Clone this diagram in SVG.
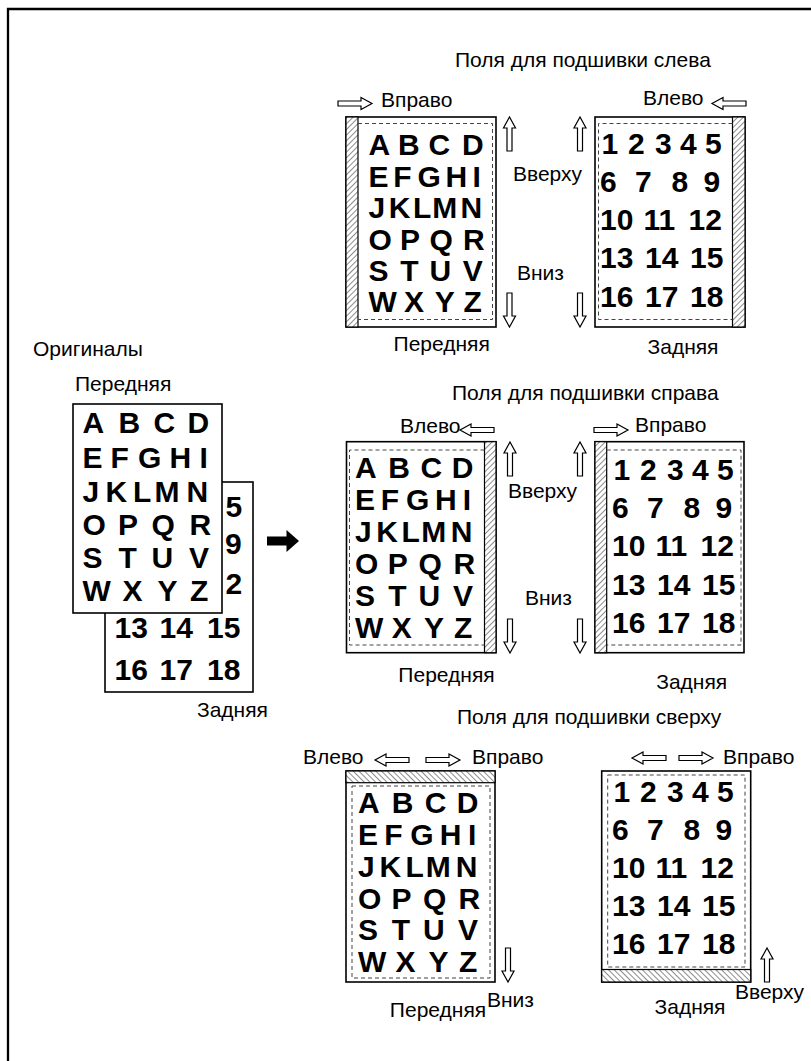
<svg xmlns="http://www.w3.org/2000/svg" xmlns:xlink="http://www.w3.org/1999/xlink" width="811" height="1061" viewBox="0 0 811 1061">
<style>
.page{fill:#fff;stroke:#000;stroke-width:1.6}
.strip{stroke:#000;stroke-width:1.2}
.dash{fill:none;stroke:#444;stroke-width:1;stroke-dasharray:4 3}
.big{font-family:"Liberation Sans",Arial,sans-serif;font-weight:bold;font-size:30px;fill:#000}
.lbl{font-family:"Liberation Sans",Arial,sans-serif;font-size:21px;fill:#000}
.mid{text-anchor:middle}
</style>
<defs>
<pattern id="hatchV" width="4" height="4" patternUnits="userSpaceOnUse" patternTransform="rotate(45)">
<rect width="4" height="4" fill="#fff"/>
<line x1="0" y1="0" x2="0" y2="4" stroke="#000" stroke-width="0.9"/>
</pattern>
<pattern id="hatchH" width="4" height="4" patternUnits="userSpaceOnUse" patternTransform="rotate(-45)">
<rect width="4" height="4" fill="#fff"/>
<line x1="0" y1="0" x2="0" y2="4" stroke="#000" stroke-width="0.9"/>
</pattern>
<path id="ha" d="M-34,-2.5 H-11 V-6 L0,0 L-11,6 V2.5 H-34 Z" fill="#fff" stroke="#000" stroke-width="1.2"/>
</defs>

<rect width="811" height="1061" fill="#fff"/>
<path d="M8,1061 V9 H811" fill="none" stroke="#000" stroke-width="2.3"/>

<g id="title-left" class="lbl"><text x="455" y="67">Поля для подшивки слева</text></g>
<g id="title-right" class="lbl"><text x="452" y="400">Поля для подшивки справа</text></g>
<g id="title-top" class="lbl"><text x="457" y="724">Поля для подшивки сверху</text></g>

<!-- Originals -->
<g id="originals">
<text class="lbl" x="33" y="356">Оригиналы</text>
<text class="lbl" x="75" y="391">Передняя</text>
<text class="lbl" x="197" y="717">Задняя</text>
<g id="orig-back">
<rect class="page" x="105" y="482" width="148" height="210"/>
<g class="big">
<text x="225.5" y="517">5</text>
<text x="225" y="554">9</text>
<text x="225.5" y="594">2</text>
<text y="638"><tspan x="114.5">13</tspan> <tspan x="159.5">14</tspan> <tspan x="207">15</tspan></text>
<text y="680"><tspan x="114.5">16</tspan> <tspan x="159.5">17</tspan> <tspan x="207">18</tspan></text>
</g>
</g>
<g id="orig-front">
<rect class="page" x="73" y="404" width="149" height="209"/>
<g class="big">
<text y="433"><tspan x="82.5">A</tspan> <tspan x="118.5">B</tspan> <tspan x="153.5">C</tspan> <tspan x="187.5">D</tspan></text>
<text y="468"><tspan x="82.5">E</tspan><tspan x="110.5">F</tspan><tspan x="138">G</tspan><tspan x="169.5">H</tspan><tspan x="199.5">I</tspan></text>
<text y="502"><tspan x="82.5">J</tspan><tspan x="105.5">K</tspan><tspan x="133">L</tspan><tspan x="154.5">M</tspan><tspan x="186.5">N</tspan></text>
<text y="535"><tspan x="82.5">O</tspan> <tspan x="118">P</tspan> <tspan x="151.5">Q</tspan> <tspan x="189.5">R</tspan></text>
<text y="568"><tspan x="82.5">S</tspan> <tspan x="118.5">T</tspan> <tspan x="151.5">U</tspan> <tspan x="189">V</tspan></text>
<text y="601"><tspan x="82.5">W</tspan> <tspan x="122.5">X</tspan> <tspan x="157.5">Y</tspan> <tspan x="190">Z</tspan></text>
</g>
</g>
</g>

<g id="connectors">
<polygon points="267,536.5 286.5,536.5 286.5,530 299,541 286.5,552 286.5,545.5 267,545.5" fill="#000"/>
</g>

<!-- Left binding -->
<g id="left-front">
<rect class="page" x="346" y="117" width="150" height="210"/>
<rect class="strip" x="346" y="117" width="12" height="210" fill="url(#hatchV)"/>
<path class="dash" d="M358,123.5 H492.5 V319.5 H358"/>
<g class="big">
<text y="155"><tspan x="368.5">A</tspan> <tspan x="398">B</tspan> <tspan x="428.5">C</tspan> <tspan x="462">D</tspan></text>
<text y="186.5"><tspan x="368.5">E</tspan><tspan x="393.3">F</tspan><tspan x="417.6">G</tspan><tspan x="445.4">H</tspan><tspan x="472.5">I</tspan></text>
<text y="218"><tspan x="368.5">J</tspan><tspan x="388.8">K</tspan><tspan x="413.1">L</tspan><tspan x="432.2">M</tspan><tspan x="460.4">N</tspan></text>
<text y="249.5"><tspan x="368.5">O</tspan> <tspan x="399.9">P</tspan> <tspan x="429.5">Q</tspan> <tspan x="463.1">R</tspan></text>
<text y="281"><tspan x="368.5">S</tspan> <tspan x="400.3">T</tspan> <tspan x="429.5">U</tspan> <tspan x="462.7">V</tspan></text>
<text y="312"><tspan x="368.5">W</tspan> <tspan x="403.9">X</tspan> <tspan x="434.8">Y</tspan> <tspan x="463.5">Z</tspan></text>
</g>
<use xlink:href="#ha" href="#ha" transform="translate(372,103.5)"/>
<text class="lbl" x="381" y="107">Вправо</text>
<use xlink:href="#ha" href="#ha" transform="translate(509.5,117) rotate(-90)"/>
<use xlink:href="#ha" href="#ha" transform="translate(509.5,327) rotate(90)"/>
<text class="lbl mid" x="441.7" y="351">Передняя</text>
</g>

<g id="left-back">
<rect class="page" x="595" y="117" width="150" height="210"/>
<rect class="strip" x="732.5" y="117" width="12.5" height="210" fill="url(#hatchV)"/>
<path class="dash" d="M732.5,123.5 H598.5 V319.5 H732.5"/>
<g class="big">
<text y="154"><tspan x="601.5">1</tspan> <tspan x="628">2</tspan> <tspan x="655">3</tspan> <tspan x="680">4</tspan> <tspan x="705">5</tspan></text>
<text y="192"><tspan x="600">6</tspan> <tspan x="635">7</tspan> <tspan x="671.5">8</tspan> <tspan x="703.5">9</tspan></text>
<text y="230"><tspan x="600">10</tspan> <tspan x="643.5">11</tspan> <tspan x="688.5">12</tspan></text>
<text y="268"><tspan x="600">13</tspan> <tspan x="645">14</tspan> <tspan x="690">15</tspan></text>
<text y="306.5"><tspan x="600">16</tspan> <tspan x="645">17</tspan> <tspan x="690">18</tspan></text>
</g>
<use xlink:href="#ha" href="#ha" transform="translate(712,103.5) rotate(180)"/>
<text class="lbl" x="643" y="105">Влево</text>
<use xlink:href="#ha" href="#ha" transform="translate(580,117) rotate(-90)"/>
<use xlink:href="#ha" href="#ha" transform="translate(580,327) rotate(90)"/>
<text class="lbl" x="513" y="181">Вверху</text>
<text class="lbl" x="517" y="280">Вниз</text>
<text class="lbl mid" x="683" y="354">Задняя</text>
</g>

<!-- Right binding -->
<g id="right-front">
<rect class="page" x="346.5" y="441.7" width="149.5" height="211"/>
<rect class="strip" x="484.5" y="441.7" width="11.5" height="211" fill="url(#hatchV)"/>
<path class="dash" d="M484.5,450 H349.5 V645 H484.5"/>
<g class="big">
<text y="478"><tspan x="355">A</tspan> <tspan x="388.2">B</tspan> <tspan x="420.4">C</tspan> <tspan x="451.7">D</tspan></text>
<text y="510"><tspan x="355">E</tspan><tspan x="380.8">F</tspan><tspan x="406.1">G</tspan><tspan x="435.1">H</tspan><tspan x="462.8">I</tspan></text>
<text y="542"><tspan x="355">J</tspan><tspan x="376.2">K</tspan><tspan x="401.5">L</tspan><tspan x="421.3">M</tspan><tspan x="450.8">N</tspan></text>
<text y="574"><tspan x="355">O</tspan> <tspan x="387.7">P</tspan> <tspan x="418.5">Q</tspan> <tspan x="453.5">R</tspan></text>
<text y="606"><tspan x="355">S</tspan> <tspan x="388.2">T</tspan> <tspan x="418.5">U</tspan> <tspan x="453.1">V</tspan></text>
<text y="638"><tspan x="355">W</tspan> <tspan x="391.8">X</tspan> <tspan x="424.1">Y</tspan> <tspan x="454">Z</tspan></text>
</g>
<use xlink:href="#ha" href="#ha" transform="translate(460,430) rotate(180)"/>
<text class="lbl" x="400" y="432.5">Влево</text>
<use xlink:href="#ha" href="#ha" transform="translate(510,442) rotate(-90)"/>
<use xlink:href="#ha" href="#ha" transform="translate(510,653) rotate(90)"/>
<text class="lbl mid" x="446.5" y="682">Передняя</text>
</g>

<g id="right-back">
<rect class="page" x="595" y="441.7" width="149" height="211"/>
<rect class="strip" x="595" y="441.7" width="11.7" height="211" fill="url(#hatchV)"/>
<path class="dash" d="M606.7,450 H741 V645 H606.7"/>
<g class="big">
<text y="480"><tspan x="613.5">1</tspan> <tspan x="640">2</tspan> <tspan x="667">3</tspan> <tspan x="692">4</tspan> <tspan x="717">5</tspan></text>
<text y="518"><tspan x="612">6</tspan> <tspan x="647">7</tspan> <tspan x="683.5">8</tspan> <tspan x="715.5">9</tspan></text>
<text y="556"><tspan x="612">10</tspan> <tspan x="655.5">11</tspan> <tspan x="700.5">12</tspan></text>
<text y="594.5"><tspan x="612">13</tspan> <tspan x="657">14</tspan> <tspan x="702">15</tspan></text>
<text y="633"><tspan x="612">16</tspan> <tspan x="657">17</tspan> <tspan x="702">18</tspan></text>
</g>
<use xlink:href="#ha" href="#ha" transform="translate(628,430)"/>
<text class="lbl" x="635" y="432">Вправо</text>
<use xlink:href="#ha" href="#ha" transform="translate(580,442) rotate(-90)"/>
<use xlink:href="#ha" href="#ha" transform="translate(580,653) rotate(90)"/>
<text class="lbl" x="508" y="498">Вверху</text>
<text class="lbl" x="525" y="605">Вниз</text>
<text class="lbl mid" x="691.7" y="689">Задняя</text>
</g>

<!-- Top binding -->
<g id="top-front">
<rect class="page" x="346" y="771" width="149" height="211"/>
<rect class="strip" x="346" y="771" width="149" height="11.7" fill="url(#hatchH)"/>
<rect class="dash" x="352" y="786" width="138" height="192"/>
<g class="big">
<text y="813"><tspan x="358">A</tspan> <tspan x="391.8">B</tspan> <tspan x="424.7">C</tspan> <tspan x="456.7">D</tspan></text>
<text y="845"><tspan x="358">E</tspan><tspan x="384.3">F</tspan><tspan x="410.2">G</tspan><tspan x="439.8">H</tspan><tspan x="468">I</tspan></text>
<text y="877"><tspan x="358">J</tspan><tspan x="379.6">K</tspan><tspan x="405.5">L</tspan><tspan x="425.7">M</tspan><tspan x="455.8">N</tspan></text>
<text y="908.5"><tspan x="358">O</tspan> <tspan x="391.4">P</tspan> <tspan x="422.9">Q</tspan> <tspan x="458.6">R</tspan></text>
<text y="940"><tspan x="358">S</tspan> <tspan x="391.8">T</tspan> <tspan x="422.9">U</tspan> <tspan x="458.1">V</tspan></text>
<text y="972"><tspan x="358">W</tspan> <tspan x="395.6">X</tspan> <tspan x="428.5">Y</tspan> <tspan x="459">Z</tspan></text>
</g>
<use xlink:href="#ha" href="#ha" transform="translate(375,760) rotate(180)"/>
<use xlink:href="#ha" href="#ha" transform="translate(460,760)"/>
<text class="lbl" x="303" y="764">Влево</text>
<text class="lbl" x="472" y="764">Вправо</text>
<use xlink:href="#ha" href="#ha" transform="translate(508,982) rotate(90)"/>
<text class="lbl" x="487" y="1007">Вниз</text>
<text class="lbl mid" x="438" y="1017">Передняя</text>
</g>

<g id="top-back">
<rect class="page" x="601.7" y="771" width="149" height="211"/>
<rect class="strip" x="601.7" y="969.5" width="149" height="12.5" fill="url(#hatchH)"/>
<rect class="dash" x="607.7" y="775" width="137.3" height="192"/>
<g class="big">
<text y="801.5"><tspan x="613.5">1</tspan> <tspan x="640">2</tspan> <tspan x="667">3</tspan> <tspan x="692">4</tspan> <tspan x="717">5</tspan></text>
<text y="839.5"><tspan x="612">6</tspan> <tspan x="647">7</tspan> <tspan x="683.5">8</tspan> <tspan x="715.5">9</tspan></text>
<text y="877.5"><tspan x="612">10</tspan> <tspan x="655.5">11</tspan> <tspan x="700.5">12</tspan></text>
<text y="915.5"><tspan x="612">13</tspan> <tspan x="657">14</tspan> <tspan x="702">15</tspan></text>
<text y="953.5"><tspan x="612">16</tspan> <tspan x="657">17</tspan> <tspan x="702">18</tspan></text>
</g>
<use xlink:href="#ha" href="#ha" transform="translate(632,758) rotate(180)"/>
<use xlink:href="#ha" href="#ha" transform="translate(713,758)"/>
<text class="lbl" x="723" y="764">Вправо</text>
<use xlink:href="#ha" href="#ha" transform="translate(767,948) rotate(-90)"/>
<text class="lbl" x="735" y="999">Вверху</text>
<text class="lbl mid" x="690" y="1014">Задняя</text>
</g>
</svg>
